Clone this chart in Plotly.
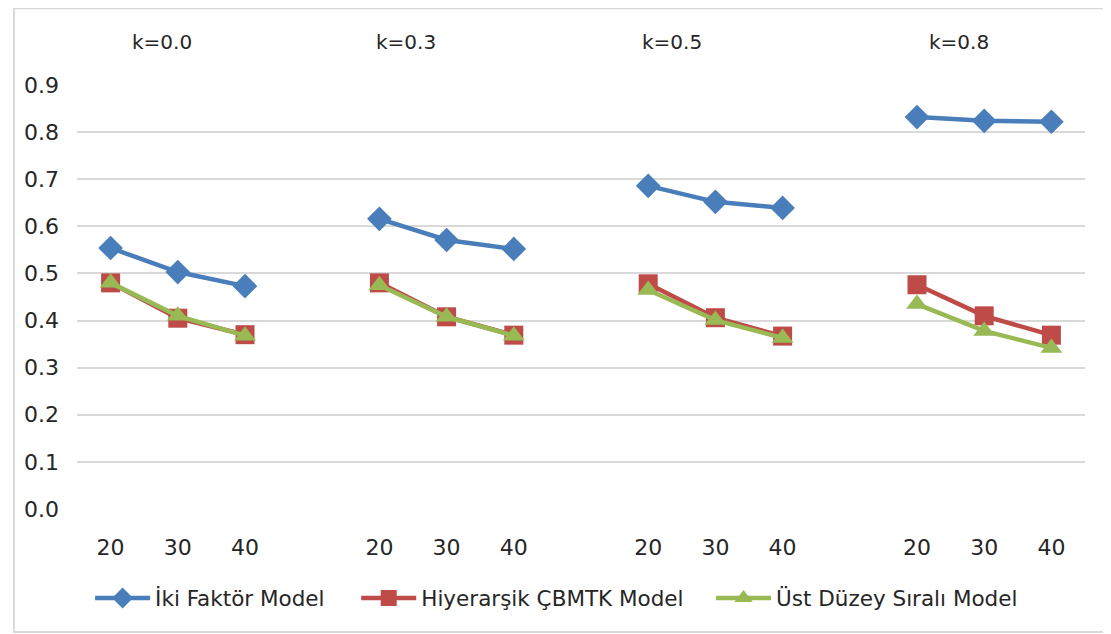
import plotly.graph_objects as go

groups = ["k=0.0", "k=0.3", "k=0.5", "k=0.8"]
sizes = ["20", "30", "40"]

iki_faktor = [0.554, 0.503, 0.473, 0.616, 0.571, 0.552, 0.686, 0.652, 0.639, 0.832, 0.824, 0.822]
hiyerarsik = [0.480, 0.405, 0.370, 0.480, 0.408, 0.369, 0.478, 0.406, 0.367, 0.476, 0.410, 0.369]
ust_duzey = [0.480, 0.410, 0.368, 0.475, 0.408, 0.368, 0.465, 0.401, 0.363, 0.435, 0.378, 0.342]

series_names = ["İki Faktör Model", "Hiyerarşik ÇBMTK Model", "Üst Düzey Sıralı Model"]
colors = ["#4A7EBB", "#BE4B48", "#98B954"]
symbols = ["diamond", "square", "triangle-up"]
msizes = [19, 19, 19]

# slot layout: 3 sizes + one blank slot between groups
slots_per_group = len(sizes) + 1
n_slots = len(groups) * slots_per_group - 1


def expand(vals):
    out = [None] * n_slots
    for g in range(len(groups)):
        for i in range(len(sizes)):
            out[g * slots_per_group + i] = vals[g * len(sizes) + i]
    return out


xs = list(range(n_slots))
ticktext = []
for g in range(len(groups)):
    ticktext += sizes
    if g < len(groups) - 1:
        ticktext.append("")

FONT = "DejaVu Sans, Arial, sans-serif"
TXT = "#262626"
legend_ids = ["legend", "legend2", "legend3"]
legend_x = [0.013, 0.277, 0.629]

fig = go.Figure()
for name, vals, c, s, ms, lg in zip(series_names, [iki_faktor, hiyerarsik, ust_duzey], colors, symbols, msizes, legend_ids):
    fig.add_trace(go.Scatter(
        x=xs, y=expand(vals), name=name, mode="lines+markers",
        line=dict(color=c, width=4.5), marker=dict(symbol=s, size=ms, color=c),
        connectgaps=False, cliponaxis=False, legend=lg,
    ))

# group label positions (slot units) as placed in the original
label_pos = [0.76, 4.40, 8.35, 12.63]
for lab, xp in zip(groups, label_pos):
    fig.add_annotation(x=xp, y=1.101, xref="x", yref="paper", text=lab, showarrow=False,
                       font=dict(size=20, color=TXT, family=FONT), xanchor="center", yanchor="middle")

fig.add_shape(type="rect", xref="paper", yref="paper", x0=-0.0625, x1=1.04, y0=-0.290, y1=1.181,
              line=dict(color="#D9D9D9", width=2), fillcolor="rgba(0,0,0,0)", layer="below")

leg_common = dict(orientation="h", y=-0.21, yanchor="middle", xanchor="left",
                  font=dict(size=21.5, color=TXT, family=FONT), itemwidth=55,
                  bgcolor="rgba(0,0,0,0)")

fig.update_layout(
    width=1111, height=634,
    margin=dict(l=69, r=34, t=77, b=133),
    paper_bgcolor="white", plot_bgcolor="white",
    font=dict(family=FONT, size=21, color=TXT),
    showlegend=True,
    legend=dict(x=legend_x[0], **leg_common),
    legend2=dict(x=legend_x[1], **leg_common),
    legend3=dict(x=legend_x[2], **leg_common),
    xaxis=dict(range=[-0.5, n_slots - 0.5], tickmode="array", tickvals=xs, ticktext=ticktext,
               showgrid=False, zeroline=False, showline=False, ticks="", ticklabelstandoff=23,
               tickfont=dict(size=22, family=FONT, color=TXT)),
    yaxis=dict(range=[0, 0.9], dtick=0.1, tick0=0, tickformat=".1f", showgrid=True,
               gridcolor="#D9D9D9", gridwidth=1.5, zeroline=False, showline=False, ticks="",
               ticklabelstandoff=17, tickfont=dict(size=22, family=FONT, color=TXT)),
)

fig.write_html("out.html")
